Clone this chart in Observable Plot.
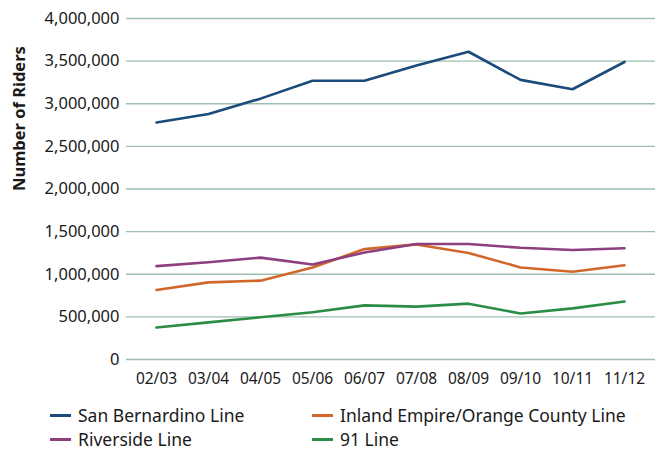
<!DOCTYPE html>
<html>
<head>
<meta charset="utf-8">
<script src="https://cdn.jsdelivr.net/npm/d3@7"></script>
<script src="https://cdn.jsdelivr.net/npm/@observablehq/plot@0.6"></script>
<style>
  body { margin: 0; background: #fff; font-family: "Noto Sans", sans-serif; overflow: hidden; }
  #wrap { position: relative; width: 662px; height: 452px; }
  .legend { position: absolute; font-size: 17.5px; line-height: 18px; height: 18px; color: #1a1a1a; display: flex; align-items: center; white-space: nowrap; }
  .legend .sw { display: inline-block; width: 21px; height: 3px; margin-right: 7px; }
</style>
</head>
<body>
<div id="wrap"></div>
<script>
const years = ["02/03","03/04","04/05","05/06","06/07","07/08","08/09","09/10","10/11","11/12"];
const seriesNames = ["San Bernardino Line","Inland Empire/Orange County Line","Riverside Line","91 Line"];
const sanBernardino = [2780000,2880000,3060000,3270000,3270000,3450000,3610000,3280000,3170000,3490000];
const inlandEmpireOC = [815000,905000,925000,1080000,1295000,1350000,1250000,1080000,1030000,1105000];
const riverside = [1095000,1140000,1195000,1115000,1255000,1355000,1355000,1310000,1285000,1305000];
const line91 = [375000,435000,495000,555000,635000,620000,655000,540000,600000,680000];
const colors = ["#1b4b7b","#d2672c","#8e3f82","#2b8c46"];
const yTicks = [0,500000,1000000,1500000,2000000,2500000,3000000,3500000,4000000];

const seriesValues = [sanBernardino, inlandEmpireOC, riverside, line91];
const data = [];
seriesNames.forEach((s, i) => years.forEach((yr, j) => data.push({series: s, year: yr, value: seriesValues[i][j]})));

const chart = Plot.plot({
  width: 662,
  height: 400,
  marginLeft: 126,
  marginRight: 7,
  marginTop: 18,
  marginBottom: 41,
  style: {fontFamily: "Noto Sans", fontSize: "15.5px", color: "#1a1a1a", background: "#fff"},
  x: {type: "point", domain: years, padding: 0, insetLeft: 28, insetRight: 29},
  y: {domain: [0, 4000000]},
  color: {domain: seriesNames, range: colors},
  marks: [
    Plot.ruleY(yTicks, {stroke: "#9dbfb1", strokeWidth: 1.3}),
    Plot.axisY({ticks: yTicks, tickFormat: d3.format(","), tickSize: 0, tickPadding: 7, label: null, fontSize: 16.5}),
    Plot.axisX({tickSize: 0, tickPadding: 13, label: null, fontSize: 15.5}),
    Plot.line(data, {x: "year", y: "value", z: "series", stroke: "series", strokeWidth: 2.6}),
    Plot.text(["Number of Riders"], {frameAnchor: "left", dx: -107, dy: 2, rotate: -90, fontWeight: "bold", fontSize: 16.5, lineAnchor: "middle", fill: "#1a1a1a"})
  ]
});
const wrap = document.getElementById("wrap");
wrap.appendChild(chart);

const pos = [[50,406],[312,406],[50,430],[312,430]];
seriesNames.forEach((s, i) => {
  const d = document.createElement("div");
  d.className = "legend";
  d.style.left = pos[i][0] + "px";
  d.style.top = pos[i][1] + "px";
  d.innerHTML = `<span class="sw" style="background:${colors[i]}"></span><span>${s}</span>`;
  wrap.appendChild(d);
});
</script>
</body>
</html>
